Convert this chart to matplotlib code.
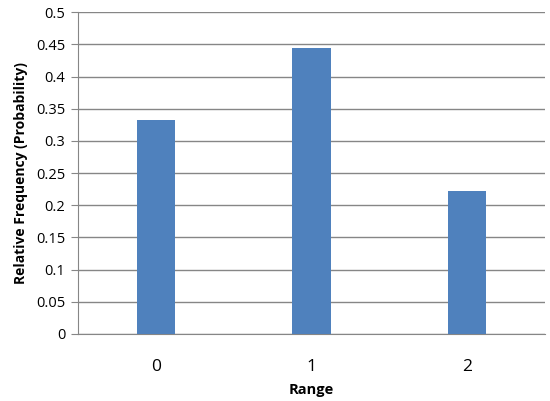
import matplotlib
matplotlib.use('Agg')
import matplotlib.pyplot as plt

categories = ['0', '1', '2']
probs = [0.333, 0.444, 0.222]
yticks = [0, 0.05, 0.1, 0.15, 0.2, 0.25, 0.3, 0.35, 0.4, 0.45, 0.5]
ytick_labels = ['0', '0.05', '0.1', '0.15', '0.2', '0.25', '0.3', '0.35', '0.4', '0.45', '0.5']

plt.rcParams['font.family'] = ['Open Sans', 'DejaVu Sans']

fig = plt.figure(figsize=(5.5, 4.01), dpi=100)
ax = fig.add_axes([0.1418, 0.1671, 0.8491, 0.8022])

x = range(len(categories))
ax.bar(x, probs, width=0.245, color='#4F81BD', zorder=3)

ax.set_xlim(-0.5, 2.5)
ax.set_ylim(0, 0.5)
ax.set_yticks(yticks)
ax.set_yticklabels(ytick_labels, fontsize=10.5)
ax.set_xticks(list(x))
ax.set_xticklabels(categories, fontsize=12.5)

ax.grid(axis='y', color='#868686', linewidth=1, zorder=0)
for s in ['top', 'right']:
    ax.spines[s].set_visible(False)
ax.spines['left'].set_color('#868686')
ax.spines['bottom'].set_color('#868686')
ax.tick_params(axis='y', length=5, color='#868686', pad=4)
ax.tick_params(axis='x', length=0, pad=18)

ax.set_xlabel('Range', fontsize=10.5, fontweight='bold', labelpad=6)
ax.set_ylabel('Relative Frequency (Probability)', fontsize=10, fontweight='bold', labelpad=6)

fig.savefig('out.png', dpi=100)
